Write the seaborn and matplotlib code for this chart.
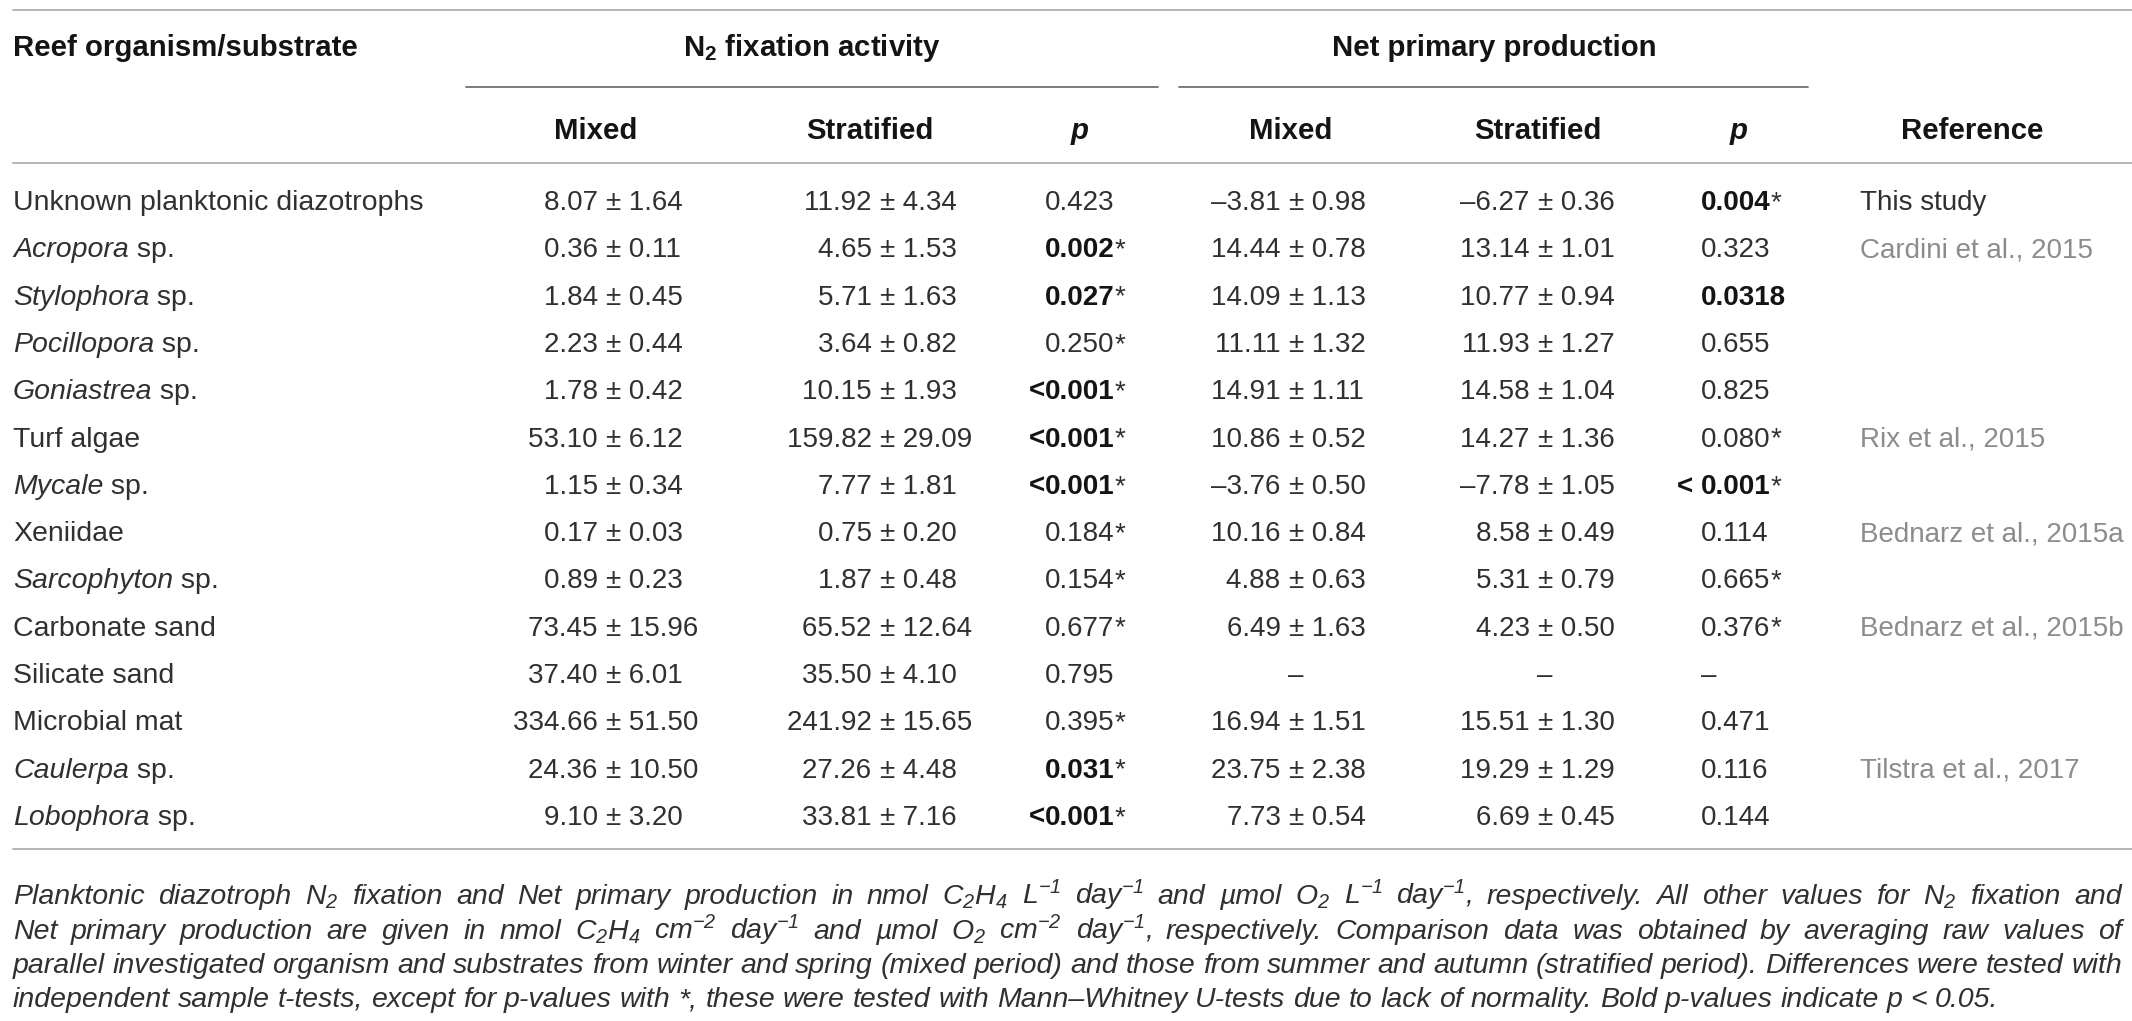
import matplotlib
matplotlib.use('Agg')
import matplotlib.pyplot as plt
import seaborn as sns

# table data

organisms = ['Unknown planktonic diazotrophs', 'Acropora', 'Stylophora', 'Pocillopora',
             'Goniastrea', 'Turf algae', 'Mycale', 'Xeniidae', 'Sarcophyton',
             'Carbonate sand', 'Silicate sand', 'Microbial mat', 'Caulerpa', 'Lobophora']
is_genus = [False, True, True, True, True, False, True, False, True, False, False, False, True, True]

n2_mixed_mean = [8.07, 0.36, 1.84, 2.23, 1.78, 53.10, 1.15, 0.17, 0.89, 73.45, 37.40, 334.66, 24.36, 9.10]
n2_mixed_sd = [1.64, 0.11, 0.45, 0.44, 0.42, 6.12, 0.34, 0.03, 0.23, 15.96, 6.01, 51.50, 10.50, 3.20]
n2_strat_mean = [11.92, 4.65, 5.71, 3.64, 10.15, 159.82, 7.77, 0.75, 1.87, 65.52, 35.50, 241.92, 27.26, 33.81]
n2_strat_sd = [4.34, 1.53, 1.63, 0.82, 1.93, 29.09, 1.81, 0.20, 0.48, 12.64, 4.10, 15.65, 4.48, 7.16]
n2_p = ['0.423', '0.002', '0.027', '0.250', '0.001', '0.001', '0.001', '0.184', '0.154',
        '0.677', '0.795', '0.395', '0.031', '0.001']
n2_p_prefix = ['', '', '', '', '<', '<', '<', '', '', '', '', '', '', '<']
n2_p_bold = [False, True, True, False, True, True, True, False, False, False, False, False, True, True]
n2_p_star = [False, True, True, True, True, True, True, True, True, True, False, True, True, True]

npp_mixed_mean = [-3.81, 14.44, 14.09, 11.11, 14.91, 10.86, -3.76, 10.16, 4.88, 6.49, None, 16.94, 23.75, 7.73]
npp_mixed_sd = [0.98, 0.78, 1.13, 1.32, 1.11, 0.52, 0.50, 0.84, 0.63, 1.63, None, 1.51, 2.38, 0.54]
npp_strat_mean = [-6.27, 13.14, 10.77, 11.93, 14.58, 14.27, -7.78, 8.58, 5.31, 4.23, None, 15.51, 19.29, 6.69]
npp_strat_sd = [0.36, 1.01, 0.94, 1.27, 1.04, 1.36, 1.05, 0.49, 0.79, 0.50, None, 1.30, 1.29, 0.45]
npp_p = ['0.004', '0.323', '0.0318', '0.655', '0.825', '0.080', '0.001', '0.114', '0.665',
         '0.376', '–', '0.471', '0.116', '0.144']
npp_p_prefix = ['', '', '', '', '', '', '< ', '', '', '', '', '', '', '']
npp_p_bold = [True, False, True, False, False, False, True, False, False, False, False, False, False, False]
npp_p_star = [True, False, False, False, False, True, True, False, True, True, False, False, False, False]

references = ['This study', 'Cardini et al., 2015', '', '', '', 'Rix et al., 2015', '',
              'Bednarz et al., 2015a', '', 'Bednarz et al., 2015b', '', '',
              'Tilstra et al., 2017', '']

footnote_lines = [
    'Planktonic diazotroph N$_2$ fixation and Net primary production in nmol C$_2$H$_4$ L$^{-1}$ '
    'day$^{-1}$ and µmol O$_2$ L$^{-1}$ day$^{-1}$, respectively. All other values for N$_2$ fixation and',
    'Net primary production are given in nmol C$_2$H$_4$ cm$^{-2}$ day$^{-1}$ and µmol O$_2$ cm$^{-2}$ '
    'day$^{-1}$, respectively. Comparison data was obtained by averaging raw values of',
    'parallel investigated organism and substrates from winter and spring (mixed period) and those '
    'from summer and autumn (stratified period). Differences were tested with',
    'independent sample t-tests, except for p-values with *, these were tested with Mann–Whitney '
    'U-tests due to lack of normality. Bold p-values indicate p < 0.05.',
]

# style

sns.set_theme(style='white')
plt.rcParams['font.family'] = ['Liberation Sans', 'DejaVu Sans']
plt.rcParams['mathtext.fontset'] = 'custom'
plt.rcParams['mathtext.rm'] = 'Liberation Sans'
plt.rcParams['mathtext.it'] = 'Liberation Sans:italic'
plt.rcParams['mathtext.bf'] = 'Liberation Sans:bold'
plt.rcParams['mathtext.default'] = 'regular'

W, H = 2132, 1021
FS = 20
FS_NAME = 20.5
FS_HEAD = 21.2
FS_NOTE = 20.5
TXT = '#303030'
HEAD = '#141414'
GREY_REF = '#8c8c8c'
RULE = '#b4b4b4'
RULE_DARK = '#707070'

fig = plt.figure(figsize=(W / 100, H / 100), dpi=100)
ax = fig.add_axes([0, 0, 1, 1])
ax.set_xlim(0, W)
ax.set_ylim(H, 0)
ax.axis('off')

# column positions (pixels)
x_org = 13
x_n2_mix, x_n2_str, x_n2_p = 613, 887, 1045
x_npp_mix, x_npp_str, x_npp_p = 1296, 1545, 1701
x_ref = 1860

row0, pitch = 200, 47.3
base = 10  # text centre -> baseline


def fmt(v):
    s = '{:.2f}'.format(abs(v))
    return ('–' + s) if v < 0 else s


def pm_cell(x, y, mean, sd):
    if mean is None:
        ax.text(x, y, '–', ha='center', va='baseline', fontsize=FS, color=TXT)
        return
    t = ax.text(x, y, '±', ha='center', va='baseline', fontsize=FS, color=TXT)
    ax.annotate(fmt(mean) + ' ', xy=(0, 0.5), xycoords=t, ha='right', va='center',
                fontsize=FS, color=TXT)
    ax.annotate(' ' + fmt(sd), xy=(1, 0.5), xycoords=t, ha='left', va='center',
                fontsize=FS, color=TXT)


def p_cell(x, y, val, prefix, bold, star):
    w = 'bold' if bold else 'normal'
    c = HEAD if bold else TXT
    t = ax.text(x, y, val, ha='left', va='baseline', fontsize=FS, color=c, weight=w)
    if prefix:
        ax.annotate(prefix, xy=(0, 0.5), xycoords=t, ha='right', va='center',
                    fontsize=FS, color=c, weight=w)
    if star:
        ax.annotate('*', xy=(1, 0.5), xycoords=t, ha='left', va='center',
                    fontsize=FS, color=TXT)


# rules
ax.plot([x_org, W], [10, 10], color=RULE, lw=1.4)
ax.plot([x_org, W], [163, 163], color=RULE, lw=1.4)
ax.plot([x_org, W], [849, 849], color=RULE, lw=1.4)
ax.plot([466, 1158], [87, 87], color=RULE_DARK, lw=1.3)
ax.plot([1179, 1808], [87, 87], color=RULE_DARK, lw=1.3)

# header
hb = 47 + 9
ax.text(x_org, hb, 'Reef organism/substrate', ha='left', va='baseline',
        fontsize=FS_HEAD, weight='bold', color=HEAD)
ax.text(812, hb, 'N$_2$ fixation activity', ha='center', va='baseline',
        fontsize=FS_HEAD, weight='bold', color=HEAD)
ax.text(1494, hb, 'Net primary production', ha='center', va='baseline',
        fontsize=FS_HEAD, weight='bold', color=HEAD)

sb = 130 + 9
for x, lab in [(596, 'Mixed'), (870, 'Stratified'), (1291, 'Mixed'), (1538, 'Stratified'),
               (1972, 'Reference')]:
    ax.text(x, sb, lab, ha='center', va='baseline', fontsize=FS_HEAD, weight='bold',
            color=HEAD)
for x in [1080, 1739]:
    ax.text(x, sb, 'p', ha='center', va='baseline', fontsize=FS_HEAD, weight='bold',
            style='italic', color=HEAD)

# body rows
for i, name in enumerate(organisms):
    y = row0 + pitch * i + base
    if is_genus[i]:
        t = ax.text(x_org, y, name, ha='left', va='baseline', fontsize=FS_NAME, color=TXT,
                    style='italic')
        ax.annotate(' sp.', xy=(1, 0.5), xycoords=t, ha='left', va='center',
                    fontsize=FS_NAME, color=TXT)
    else:
        ax.text(x_org, y, name, ha='left', va='baseline', fontsize=FS_NAME, color=TXT)

    pm_cell(x_n2_mix, y, n2_mixed_mean[i], n2_mixed_sd[i])
    pm_cell(x_n2_str, y, n2_strat_mean[i], n2_strat_sd[i])
    p_cell(x_n2_p, y, n2_p[i], n2_p_prefix[i], n2_p_bold[i], n2_p_star[i])
    pm_cell(x_npp_mix, y, npp_mixed_mean[i], npp_mixed_sd[i])
    pm_cell(x_npp_str, y, npp_strat_mean[i], npp_strat_sd[i])
    p_cell(x_npp_p, y, npp_p[i], npp_p_prefix[i], npp_p_bold[i], npp_p_star[i])

    if references[i]:
        col = TXT if references[i] == 'This study' else GREY_REF
        ax.text(x_ref, y, references[i], ha='left', va='baseline', fontsize=FS, color=col)

# footnote, justified word by word
fig.canvas.draw()
renderer = fig.canvas.get_renderer()


def text_width(s):
    t = ax.text(0, 0, s, fontsize=FS_NOTE, style='italic')
    w = t.get_window_extent(renderer).width
    t.remove()
    return w


space_w = text_width('a a') - text_width('aa')
note_y = [896, 931, 965, 999]
x_right = 2122
for k, line in enumerate(footnote_lines):
    words = line.split(' ')
    arts = [ax.text(0, note_y[k] + 8, w, ha='left', va='baseline', fontsize=FS_NOTE,
                    style='italic', color=TXT) for w in words]
    widths = [a.get_window_extent(renderer).width for a in arts]
    if k == len(footnote_lines) - 1:
        gap = space_w
    else:
        gap = max((x_right - x_org - sum(widths)) / (len(words) - 1), 0.5 * space_w)
    x = x_org
    for a, w in zip(arts, widths):
        a.set_x(x)
        x += w + gap

fig.savefig('out.png', dpi=100, facecolor='white')
